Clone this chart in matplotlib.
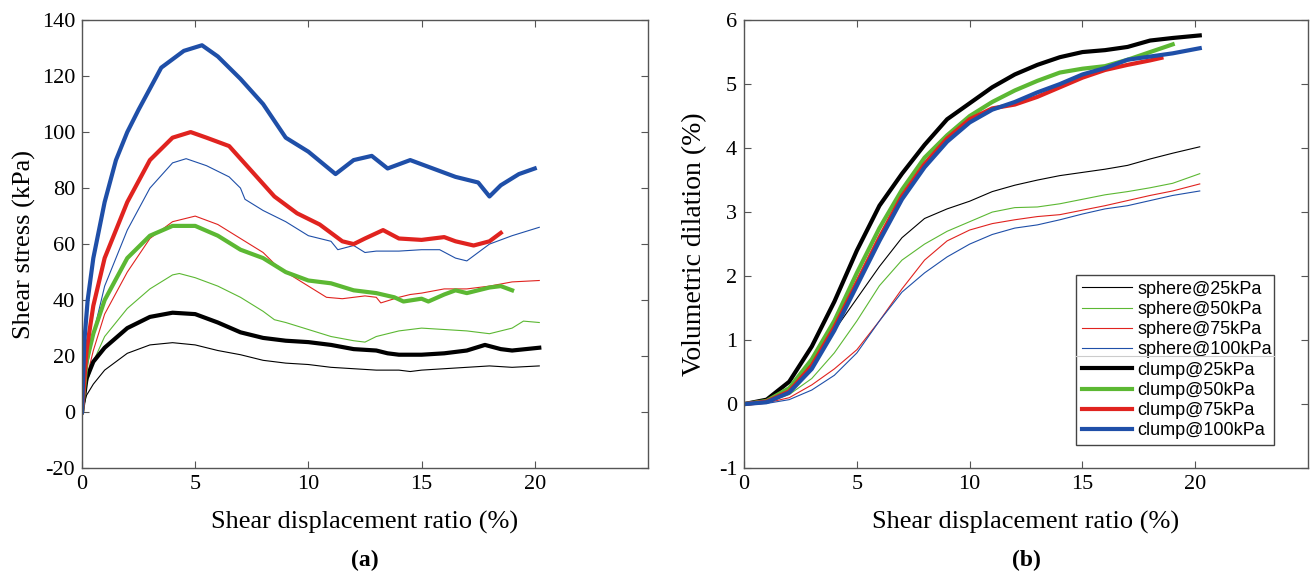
import matplotlib.pyplot as plt

# ---------------- data: (a) shear stress vs shear displacement ratio ----------------
xa_s25 = [0, 0.2, 0.5, 1, 2, 3, 4, 5, 6, 7, 8, 9, 10, 11, 12, 13, 14, 14.5, 15, 16, 17, 18, 19, 20.2]
ya_s25 = [0, 6, 10, 15, 21, 24, 24.8, 24, 22, 20.5, 18.5, 17.5, 17, 16, 15.5, 15, 15, 14.5, 15, 15.5, 16, 16.5, 16, 16.5]

xa_s50 = [0, 0.2, 0.5, 1, 2, 3, 4, 4.3, 5, 6, 7, 8, 8.5, 9, 10, 11, 12, 12.5, 13, 14, 15, 16, 17, 18, 19, 19.5, 20.2]
ya_s50 = [0, 10, 18, 27, 37, 44, 49, 49.5, 48, 45, 41, 36, 33, 32, 29.5, 27, 25.5, 25, 27, 29, 30, 29.5, 29, 28, 30, 32.5, 32]

xa_s75 = [0, 0.2, 0.5, 1, 2, 3, 4, 5, 6, 7, 8, 8.5, 9, 10, 10.8, 11.5, 12.5, 13, 13.2, 14, 14.5, 15, 16, 17, 18, 19, 20.2]
ya_s75 = [0, 12, 22, 35, 50, 62, 68, 70, 67, 62, 57, 53, 50, 45, 41, 40.5, 41.5, 41, 39, 41, 42, 42.5, 44, 44, 45, 46.5, 47]

xa_s100 = [0, 0.2, 0.5, 1, 2, 3, 4, 4.6, 5.5, 6.5, 7, 7.2, 8, 9, 10, 11, 11.3, 12, 12.5, 13, 14, 15, 15.8, 16.5, 17, 17.5, 18, 19, 20.2]
ya_s100 = [0, 15, 28, 45, 65, 80, 89, 90.5, 88, 84, 80, 76, 72, 68, 63, 61, 58, 59.5, 57, 57.5, 57.5, 58, 58, 55, 54, 57, 60, 63, 66]

xa_c25 = [0, 0.2, 0.5, 1, 2, 3, 4, 5, 6, 7, 8, 9, 10, 11, 12, 13, 13.5, 14, 15, 16, 17, 17.8, 18.5, 19, 20.2]
ya_c25 = [0, 12, 18, 23, 30, 34, 35.5, 35, 32, 28.5, 26.5, 25.5, 25, 24, 22.5, 22, 21, 20.5, 20.5, 21, 22, 24, 22.5, 22, 23]

xa_c50 = [0, 0.2, 0.5, 1, 2, 3, 4, 5, 6, 7, 8, 9, 10, 11, 12, 13, 13.8, 14.2, 15, 15.3, 16, 16.5, 17, 18, 18.5, 19]
ya_c50 = [0, 18, 28, 40, 55, 63, 66.5, 66.5, 63, 58, 55, 50, 47, 46, 43.5, 42.5, 41, 39.5, 40.5, 39.5, 42, 43.5, 42.5, 44.5, 45, 43.5]

xa_c75 = [0, 0.2, 0.5, 1, 2, 3, 4, 4.8, 5.5, 6.5, 7.5, 8.5, 9.5, 10.5, 11.5, 12, 12.5, 13.3, 14, 15, 16, 16.5, 17.3, 18, 18.5]
ya_c75 = [0, 22, 38, 55, 75, 90, 98, 100, 98, 95, 86, 77, 71, 67, 61, 60, 62, 65, 62, 61.5, 62.5, 61, 59.5, 61, 64]

xa_c100 = [0, 0.1, 0.25, 0.5, 1, 1.5, 2, 2.5, 3.5, 4.5, 5.3, 6, 7, 8, 8.5, 9, 10, 11.2, 12, 12.8, 13.5, 14.5, 15.5, 16.5, 17.5, 18, 18.5, 19.3, 20]
ya_c100 = [0, 25, 40, 55, 75, 90, 100, 108, 123, 129, 131, 127, 119, 110, 104, 98, 93, 85, 90, 91.5, 87, 90, 87, 84, 82, 77, 81, 85, 87]

# ---------------- data: (b) volumetric dilation vs shear displacement ratio ----------------
xb = [0, 1, 2, 3, 4, 5, 6, 7, 8, 9, 10, 11, 12, 13, 14, 15, 16, 17, 18, 19, 20.2]
yb_s25 = [0, 0.04, 0.25, 0.65, 1.15, 1.65, 2.15, 2.6, 2.9, 3.05, 3.17, 3.32, 3.42, 3.5, 3.57, 3.62, 3.67, 3.73, 3.83, 3.92, 4.02]
yb_s50 = [0, 0.03, 0.15, 0.4, 0.8, 1.3, 1.85, 2.25, 2.5, 2.7, 2.85, 3.0, 3.07, 3.08, 3.13, 3.2, 3.27, 3.32, 3.38, 3.45, 3.6]
yb_s75 = [0, 0.02, 0.1, 0.3, 0.55, 0.85, 1.3, 1.8, 2.25, 2.55, 2.72, 2.82, 2.88, 2.93, 2.96, 3.03, 3.1, 3.18, 3.26, 3.33, 3.44]
yb_s100 = [0, 0.01, 0.07, 0.22, 0.45, 0.8, 1.3, 1.75, 2.05, 2.3, 2.5, 2.65, 2.75, 2.8, 2.88, 2.97, 3.05, 3.1, 3.18, 3.26, 3.33]
yb_c25 = [0, 0.07, 0.35, 0.9, 1.6, 2.4, 3.1, 3.6, 4.05, 4.45, 4.7, 4.95, 5.15, 5.3, 5.42, 5.5, 5.53, 5.58, 5.68, 5.72, 5.76]
xb_c50 = [0, 1, 2, 3, 4, 5, 6, 7, 8, 9, 10, 11, 12, 13, 14, 15, 16, 17, 18, 19]
yb_c50 = [0, 0.05, 0.25, 0.7, 1.3, 2.05, 2.75, 3.35, 3.85, 4.2, 4.5, 4.72, 4.9, 5.05, 5.18, 5.24, 5.28, 5.38, 5.5, 5.62]
xb_c75 = [0, 1, 2, 3, 4, 5, 6, 7, 8, 9, 10, 11, 12, 13, 14, 15, 16, 17, 18, 18.5]
yb_c75 = [0, 0.04, 0.2, 0.6, 1.2, 1.9, 2.6, 3.25, 3.75, 4.15, 4.45, 4.62, 4.68, 4.8, 4.95, 5.1, 5.22, 5.3, 5.37, 5.41]
yb_c100 = [0, 0.03, 0.18, 0.55, 1.15, 1.85, 2.55, 3.2, 3.7, 4.1, 4.4, 4.6, 4.72, 4.87, 5.0, 5.15, 5.25, 5.38, 5.43, 5.48, 5.56]

labels_s = ['sphere@25kPa', 'sphere@50kPa', 'sphere@75kPa', 'sphere@100kPa']
labels_c = ['clump@25kPa', 'clump@50kPa', 'clump@75kPa', 'clump@100kPa']
colors = ['black', '#5cb833', '#e0231f', '#1f4fa8']

plt.rcParams['font.family'] = 'Liberation Serif'
plt.rcParams['axes.unicode_minus'] = False

fig = plt.figure(figsize=(13.1, 5.73), dpi=100)
axa = fig.add_axes([0.0626, 0.183, 0.432, 0.782])
axb = fig.add_axes([0.568, 0.183, 0.4305, 0.782])

# (a)
thin, thick = 0.8, 3.0
for xs, ys, c in zip([xa_s25, xa_s50, xa_s75, xa_s100], [ya_s25, ya_s50, ya_s75, ya_s100], colors):
    axa.plot(xs, ys, color=c, lw=thin)
for xs, ys, c in zip([xa_c25, xa_c50, xa_c75, xa_c100], [ya_c25, ya_c50, ya_c75, ya_c100], colors):
    axa.plot(xs, ys, color=c, lw=thick)
axa.set_xlim(0, 25)
axa.set_ylim(-20, 140)
axa.set_yticks(range(-20, 141, 20))
axa.set_ylabel('Shear stress (kPa)', fontsize=19, labelpad=4)

# (b)
hs = []
for ys, c, lab in zip([yb_s25, yb_s50, yb_s75, yb_s100], colors, labels_s):
    hs += axb.plot(xb, ys, color=c, lw=thin, label=lab)
for xs, ys, c, lab in zip([xb, xb_c50, xb_c75, xb], [yb_c25, yb_c50, yb_c75, yb_c100], colors, labels_c):
    hs += axb.plot(xs, ys, color=c, lw=thick, label=lab)
axb.set_xlim(0, 25)
axb.set_ylim(-1, 6)
axb.set_yticks(range(-1, 7))
axb.set_ylabel('Volumetric dilation (%)', fontsize=20, labelpad=8)

leg = axb.legend(handles=hs, loc='lower left', bbox_to_anchor=(0.589, 0.052, 0.351, 0.392),
                 mode='expand', prop={'family': 'Liberation Sans', 'size': 13},
                 handlelength=2.8, handletextpad=0.3, labelspacing=0.18, borderpad=0.3,
                 fancybox=False, framealpha=1, borderaxespad=0)
leg.get_frame().set_edgecolor('#444444')
leg.get_frame().set_linewidth(1.0)
axb.plot([0.589, 0.94], [0.251, 0.251], transform=axb.transAxes, color='#cccccc', lw=0.8, zorder=10)

for ax, tag in [(axa, '(a)'), (axb, '(b)')]:
    ax.set_xticks([0, 5, 10, 15, 20])
    ax.tick_params(direction='in', length=5, width=0.8, color='#555555', labelsize=16,
                   top=True, right=True, pad=5)
    for sp in ax.spines.values():
        sp.set_color('#555555')
        sp.set_linewidth(1.0)
    ax.set_xlabel('Shear displacement ratio (%)', fontsize=19, labelpad=12)
    ax.text(0.5, -0.205, tag, transform=ax.transAxes, ha='center', va='center',
            fontsize=17, fontweight='bold')

fig.savefig('out.png', dpi=100)
